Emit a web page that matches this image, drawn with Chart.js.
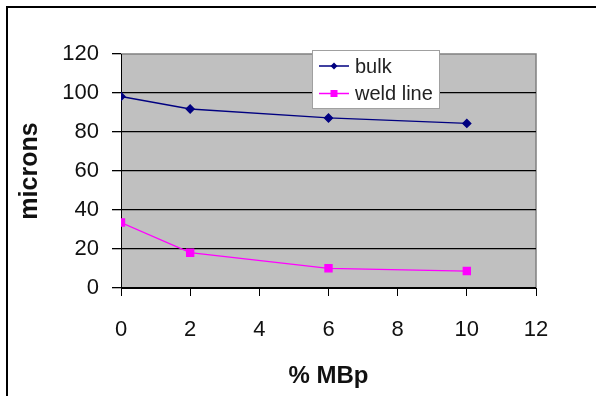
<!DOCTYPE html>
<html>
<head>
<meta charset="utf-8">
<script src="https://cdn.jsdelivr.net/npm/chart.js@4/dist/chart.umd.min.js"></script>
<style>
  html, body { margin: 0; padding: 0; background: #fff; }
  #wrap { width: 596px; height: 396px; position: relative; }
</style>
</head>
<body>
<div id="wrap"><canvas id="c" width="596" height="396"></canvas></div>
<script>
// MBp content (%) and measured feature size (microns)
const mbpPercent = [0, 2, 6, 10];
const bulkMicrons = [98.2, 91.8, 87.2, 84.4];
const weldLineMicrons = [33.6, 18.1, 10.1, 8.7];
const seriesNames = ['bulk', 'weld line'];
const xTicks = [0, 2, 4, 6, 8, 10, 12];
const yTicks = [0, 20, 40, 60, 80, 100, 120];

const FONT = "Arial, 'Liberation Sans', sans-serif";

const toPoints = (xs, ys) => xs.map((x, i) => ({ x: x, y: ys[i] }));

// grey plot background, frame, and the outer page border
const plotBackground = {
  id: 'plotBackground',
  beforeDraw(chart) {
    const { ctx, chartArea: a } = chart;
    ctx.save();
    ctx.fillStyle = '#c0c0c0';
    ctx.fillRect(a.left, a.top, a.right - a.left, a.bottom - a.top);
    ctx.strokeStyle = '#808080';
    ctx.lineWidth = 1.5;
    ctx.beginPath();
    ctx.moveTo(a.left, a.top);
    ctx.lineTo(a.right, a.top);
    ctx.lineTo(a.right, a.bottom);
    ctx.stroke();
    // outer border (left and top edges)
    ctx.strokeStyle = '#000';
    ctx.lineWidth = 2;
    ctx.beginPath();
    ctx.moveTo(7, 396);
    ctx.lineTo(7, 7);
    ctx.lineTo(596, 7);
    ctx.stroke();
    ctx.restore();
  }
};

// boxed legend drawn over the top of the plot
const boxLegend = {
  id: 'boxLegend',
  afterDraw(chart) {
    const { ctx } = chart;
    const box = { x: 312, y: 50, w: 127, h: 58 };
    ctx.save();
    ctx.fillStyle = '#ffffff';
    ctx.fillRect(box.x, box.y, box.w, box.h);
    ctx.strokeStyle = '#a0a0a0';
    ctx.lineWidth = 1;
    ctx.strokeRect(box.x + 0.5, box.y + 0.5, box.w, box.h);
    chart.data.datasets.forEach((ds, i) => {
      const cy = box.y + 16 + i * 27.5;
      ctx.strokeStyle = ds.borderColor;
      ctx.lineWidth = 1.5;
      ctx.beginPath();
      ctx.moveTo(box.x + 7, cy);
      ctx.lineTo(box.x + 37, cy);
      ctx.stroke();
      ctx.fillStyle = ds.pointBackgroundColor;
      const mx = box.x + 22;
      if (ds.pointStyle === 'rectRot') {
        ctx.beginPath();
        ctx.moveTo(mx - 3.5, cy);
        ctx.lineTo(mx, cy - 3.5);
        ctx.lineTo(mx + 3.5, cy);
        ctx.lineTo(mx, cy + 3.5);
        ctx.closePath();
        ctx.fill();
      } else {
        ctx.fillRect(mx - 3.5, cy - 3.5, 7, 7);
      }
      ctx.fillStyle = '#222';
      ctx.font = '20px ' + FONT;
      ctx.textBaseline = 'middle';
      ctx.textAlign = 'left';
      ctx.fillText(ds.label, box.x + 43, cy + 1);
    });
    ctx.restore();
  }
};

new Chart(document.getElementById('c'), {
  type: 'line',
  data: {
    datasets: [
      {
        label: seriesNames[0],
        data: toPoints(mbpPercent, bulkMicrons),
        borderColor: '#000080',
        backgroundColor: '#000080',
        pointBackgroundColor: '#000080',
        pointBorderColor: '#000080',
        pointStyle: 'rectRot',
        pointRadius: 4,
        borderWidth: 1.3,
        tension: 0
      },
      {
        label: seriesNames[1],
        data: toPoints(mbpPercent, weldLineMicrons),
        borderColor: '#ff00ff',
        backgroundColor: '#ff00ff',
        pointBackgroundColor: '#ff00ff',
        pointBorderColor: '#ff00ff',
        pointStyle: 'rect',
        pointRadius: 5,
        borderWidth: 1.3,
        tension: 0
      }
    ]
  },
  options: {
    responsive: false,
    animation: false,
    layout: { padding: { top: 54, right: 60, left: 0, bottom: 0 } },
    plugins: {
      legend: { display: false },
      tooltip: { enabled: false }
    },
    scales: {
      x: {
        type: 'linear',
        min: xTicks[0],
        max: xTicks[xTicks.length - 1],
        afterBuildTicks(scale) { scale.ticks = xTicks.map(v => ({ value: v })); },
        afterFit(scale) { scale.height = 108; },
        border: { color: '#000', width: 1 },
        grid: { drawOnChartArea: false, drawTicks: true, tickLength: 8, color: '#000', lineWidth: 1 },
        ticks: { color: '#111', font: { family: FONT, size: 22 }, padding: 21, maxRotation: 0 },
        title: {
          display: true,
          text: '% MBp',
          color: '#111',
          font: { family: FONT, size: 24, weight: 'bold' },
          padding: { top: 0, bottom: 5 }
        }
      },
      y: {
        min: yTicks[0],
        max: yTicks[yTicks.length - 1],
        afterBuildTicks(scale) { scale.ticks = yTicks.map(v => ({ value: v })); },
        afterFit(scale) { scale.width = 121; },
        border: { color: '#000', width: 1 },
        grid: {
          drawTicks: true,
          tickLength: 9,
          color: ctx => (ctx.tick && ctx.tick.value === 120 ? 'rgba(0,0,0,0)' : '#000'),
          tickColor: '#000',
          lineWidth: 1.3
        },
        ticks: { color: '#111', font: { family: FONT, size: 22 }, padding: 13 },
        title: {
          display: true,
          text: 'microns',
          color: '#111',
          font: { family: FONT, size: 25, weight: 'bold' },
          padding: { top: 15, bottom: 0 }
        }
      }
    }
  },
  plugins: [plotBackground, boxLegend]
});
</script>
</body>
</html>
